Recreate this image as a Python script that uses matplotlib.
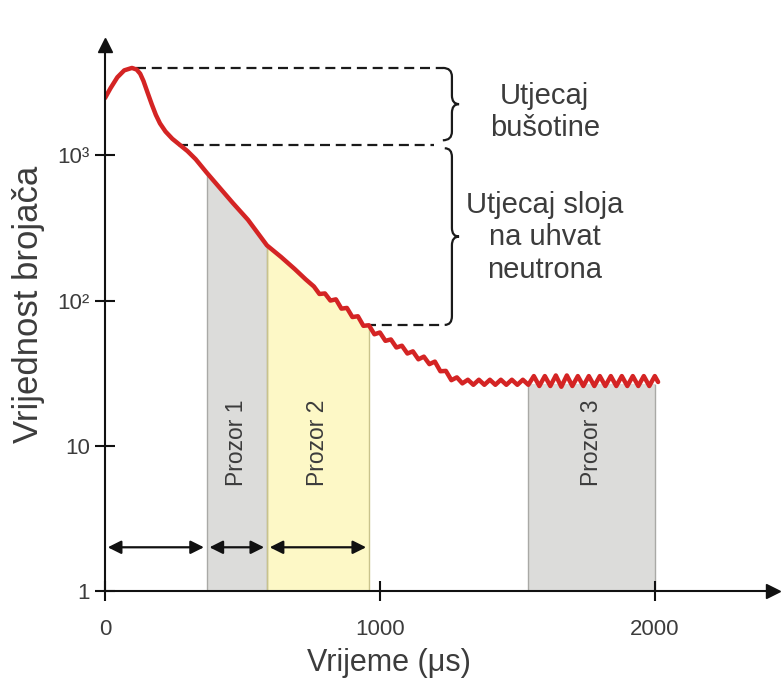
import numpy as np
import matplotlib
matplotlib.use("Agg")
import matplotlib.pyplot as plt
from matplotlib.path import Path
from matplotlib.patches import PathPatch

plt.rcParams['font.family'] = ['Liberation Sans', 'DejaVu Sans']

# time (us) vs counter value
time_us = [0, 20, 45, 70, 98, 115, 128, 140, 155, 170, 185, 200, 220, 245, 270, 300, 330, 370, 420, 465, 520, 589,
           640, 690, 730, 760,
           780, 800, 820, 840, 860, 880, 900, 920, 940, 960, 980, 1000, 1020, 1040, 1060, 1080, 1100, 1120, 1140, 1160,
           1180, 1200, 1220, 1240, 1260, 1280, 1300, 1320, 1340, 1360, 1380, 1400, 1420, 1440, 1460, 1480, 1500, 1520,
           1540, 1560, 1580, 1600, 1620, 1640, 1660, 1680, 1700, 1720, 1740, 1760, 1780, 1800, 1820, 1840, 1860, 1880,
           1900, 1920, 1940, 1960, 1980, 2000, 2012]
counts = [2480, 2900, 3450, 3850, 4000, 3900, 3650, 3250, 2700, 2250, 1900, 1660, 1460, 1300, 1190, 1070, 940, 760,
          590, 470, 360, 240, 200, 165, 140, 125,
          111, 112, 100, 102, 88, 89, 77, 78, 67, 67.6, 58.6, 60.3, 52.8, 54, 47.5, 48.9, 43.2, 44.7, 39.4, 41.1,
          36.5, 38, 32.6, 32.8, 28.3, 29.6, 26.9, 28.5, 26.3, 28.5, 26.3, 28.5, 26.3, 28.5, 26.3, 28.5, 26.3, 28.5,
          26.3, 30.2, 25.8, 30.2, 25.8, 30.5, 25.5, 30.5, 25.8, 30.2, 25.8, 30.2, 25.8, 30.2, 25.8, 30.2, 25.8, 30.2,
          25.8, 30.2, 25.8, 30.2, 25.8, 30.2, 27.5]

# measurement windows (us)
windows = [(370, 589), (589, 960), (1540, 2000)]
window_names = ["Prozor 1", "Prozor 2", "Prozor 3"]
window_colors = ["#dcdcda", "#fdf8c6", "#dcdcda"]
window_edges = ["#a9a9a6", "#c9c38c", "#a9a9a6"]

# dashed levels: value, start, end (us)
dash_levels = [4000, 1175, 68]
dash_start = [112, 265, 948]
dash_end = [1229, 1195, 1236]

Y_MIN, Y_MAX = 1, 10 ** 3.76
X_MAX = 2430

t = np.array(time_us)
c = np.array(counts)

fig = plt.figure(figsize=(7.82, 6.81), dpi=100)
ax = fig.add_axes([105 / 782, 90 / 681, 668 / 782, 546 / 681])
ax.set_yscale('log')
ax.set_xlim(0, X_MAX)
ax.set_ylim(Y_MIN, Y_MAX)

# windows
for (a, b), name, fc, ec in zip(windows, window_names, window_colors, window_edges):
    m = (t >= a) & (t <= b)
    if name == "Prozor 3":
        top = np.full(m.sum(), c[m].min() + 1.0)
    else:
        top = c[m]
    ax.fill_between(t[m], Y_MIN, top, color=fc, lw=0, zorder=1)
    ax.vlines([t[m][0], t[m][-1]], Y_MIN, [top[0], top[-1]], color=ec, lw=1.0, zorder=1.5)
    ax.text((a + b) / 2, 10.5, name, rotation=90, ha='center', va='center', fontsize=16.5, color='#3c3c3c', zorder=3)

# curve
ax.plot(t, c, color='#d42424', lw=3.2, solid_joinstyle='round', solid_capstyle='round', zorder=5)

# dashed guides
for lev, x0, x1 in zip(dash_levels, dash_start, dash_end):
    ax.plot([x0, x1], [lev, lev], color='#1a1a1a', lw=1.6, dashes=(4.5, 2.6), zorder=4)


def to_axes(v):
    return (np.log10(v) - np.log10(Y_MIN)) / (np.log10(Y_MAX) - np.log10(Y_MIN))


def brace(x0, xv, xt, y_top, y_bot, r=0.016):
    yt, yb = to_axes(y_top), to_axes(y_bot)
    ym = (yt + yb) / 2
    verts = [(x0, yt), (xv, yt), (xv, yt - r), (xv, ym + r), (xv, ym), (xt, ym),
             (xv, ym), (xv, ym - r), (xv, yb + r), (xv, yb), (x0, yb)]
    codes = [Path.MOVETO, Path.CURVE3, Path.CURVE3, Path.LINETO, Path.CURVE3, Path.CURVE3,
             Path.CURVE3, Path.CURVE3, Path.LINETO, Path.CURVE3, Path.CURVE3]
    ax.add_patch(PathPatch(Path(verts, codes), fill=False, lw=1.6, ec='#1a1a1a',
                           transform=ax.get_xaxis_transform(), clip_on=False, zorder=4))


brace(1229, 1262, 1288, 4000, 1270)
brace(1236, 1262, 1288, 1119, 68)

ax.text(1600, 1980, "Utjecaj\nbušotine", ha='center', va='center', fontsize=21, color='#3c3c3c', linespacing=1.2)
ax.text(1600, 273, "Utjecaj sloja\nna uhvat\nneutrona", ha='center', va='center', fontsize=21, color='#3c3c3c',
        linespacing=1.2)

# arrows between window edges
arrow_marks = [0, 370, 589, 960]
for a, b in zip(arrow_marks[:-1], arrow_marks[1:]):
    ax.annotate('', xy=(b, 2), xytext=(a, 2),
                arrowprops=dict(arrowstyle='<|-|>', color='#111111', lw=1.6, mutation_scale=20,
                                shrinkA=2, shrinkB=2), zorder=4)

# axes styling
for s in ['top', 'right']:
    ax.spines[s].set_visible(False)
for s in ['left', 'bottom']:
    ax.spines[s].set_linewidth(1.5)
    ax.spines[s].set_color('#111111')
    ax.spines[s].set_zorder(6)

ax.set_xticks([0, 1000, 2000])
ax.set_xticklabels(['0', '1000', '2000'])
ax.set_yticks([1, 10, 100, 1000])
ax.set_yticklabels(['1', '10', '10²', '10³'])
ax.minorticks_off()
ax.tick_params(axis='both', direction='inout', length=14, width=1.5, color='#111111', labelsize=16,
               labelcolor='#3c3c3c')
ax.tick_params(axis='x', pad=13)
ax.tick_params(axis='y', pad=4)

ax.plot(1, 0, '>', color='#111111', ms=10, transform=ax.transAxes, clip_on=False, zorder=7)
ax.plot(0, 1, '^', color='#111111', ms=10, transform=ax.transAxes, clip_on=False, zorder=7)

ax.set_xlabel('Vrijeme (μs)', fontsize=22, color='#3c3c3c')
ax.xaxis.set_label_coords(0.425, -0.105)
ax.set_ylabel('Vrijednost brojača', fontsize=25, color='#3c3c3c')
ax.yaxis.set_label_coords(-0.09, 0.525)

fig.savefig('out.png', dpi=100)
